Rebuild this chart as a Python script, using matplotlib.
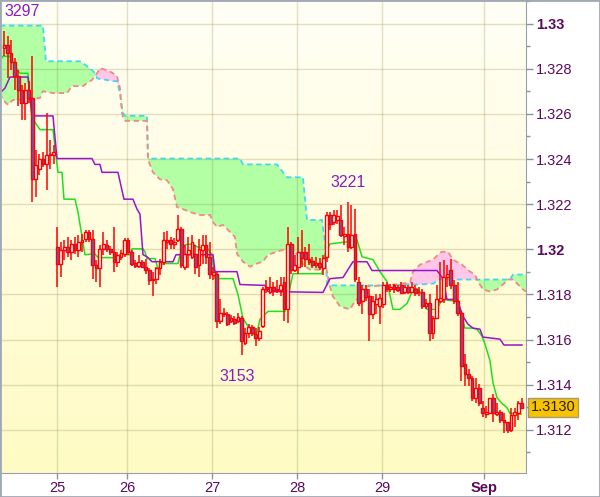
import numpy as np
import matplotlib
matplotlib.use("Agg")
import matplotlib.pyplot as plt
from matplotlib.colors import LinearSegmentedColormap
from matplotlib.patches import Rectangle
from matplotlib.transforms import blended_transform_factory

# hourly bars, x = bar number
opens = [1.32890, 1.32903, 1.32868, 1.32829, 1.32767, 1.32706, 1.32648, 1.32706, 1.32670, 1.32310,
         1.32354, 1.32402, 1.32376, 1.32420, 1.32416, 1.32011, 1.31937, 1.31998, 1.32011, 1.31989,
         1.32024, 1.31998, 1.32033, 1.32046, 1.32077, 1.32046, 1.31932, 1.31915, 1.32002, 1.32020,
         1.32002, 1.31989, 1.31945, 1.31967, 1.31980, 1.32042, 1.31989, 1.31941, 1.31928, 1.31945,
         1.31923, 1.31910, 1.31862, 1.31870, 1.31915, 1.31945, 1.32033, 1.32042, 1.32024, 1.32042,
         1.32090, 1.31923, 1.31980, 1.31967, 1.31980, 1.31932, 1.31998, 1.32020, 1.31967, 1.31888,
         1.31892, 1.31681, 1.31712, 1.31712, 1.31681, 1.31690, 1.31681, 1.31694, 1.31585, 1.31629,
         1.31655, 1.31624, 1.31607, 1.31659, 1.31835, 1.31813, 1.31831, 1.31818, 1.31818, 1.31857,
         1.31734, 1.32024, 1.31910, 1.31923, 1.31989, 1.31989, 1.31959, 1.31950, 1.31932, 1.31941,
         1.31915, 1.31967, 1.32152, 1.32121, 1.32130, 1.32130, 1.32060, 1.32068, 1.32011, 1.32068,
         1.31857, 1.31769, 1.31826, 1.31791, 1.31712, 1.31756, 1.31747, 1.31756, 1.31840, 1.31822,
         1.31840, 1.31835, 1.31844, 1.31813, 1.31835, 1.31813, 1.31826, 1.31813, 1.31813, 1.31747,
         1.31760, 1.31629, 1.31694, 1.31769, 1.31778, 1.31879, 1.31910, 1.31844, 1.31769, 1.31716,
         1.31492, 1.31448, 1.31431, 1.31343, 1.31387, 1.31295, 1.31269, 1.31273, 1.31343, 1.31269,
         1.31277, 1.31242, 1.31233, 1.31198, 1.31264, 1.31273, 1.31317]
highs = [1.32969, 1.32943, 1.32925, 1.32846, 1.32794, 1.32728, 1.32736, 1.32745, 1.32855, 1.32442,
         1.32420, 1.32429, 1.32605, 1.32486, 1.32464, 1.32099, 1.32033, 1.32042, 1.32055, 1.32042,
         1.32055, 1.32064, 1.32068, 1.32086, 1.32086, 1.32086, 1.31954, 1.32020, 1.32077, 1.32042,
         1.32015, 1.32099, 1.31989, 1.31998, 1.32051, 1.32051, 1.31998, 1.31954, 1.31976, 1.31954,
         1.31959, 1.31919, 1.31901, 1.31923, 1.31959, 1.32077, 1.32081, 1.32055, 1.32051, 1.32152,
         1.32099, 1.32020, 1.32055, 1.32064, 1.32020, 1.32046, 1.32064, 1.32064, 1.32033, 1.31923,
         1.31901, 1.31778, 1.31738, 1.31721, 1.31708, 1.31703, 1.31716, 1.31703, 1.31651, 1.31668,
         1.31664, 1.31651, 1.31655, 1.31835, 1.31866, 1.31879, 1.31857, 1.31866, 1.31879, 1.31879,
         1.32099, 1.32033, 1.31976, 1.32055, 1.32086, 1.32011, 1.32024, 1.31967, 1.31967, 1.31963,
         1.31976, 1.32165, 1.32165, 1.32174, 1.32174, 1.32196, 1.32099, 1.32209, 1.32196, 1.32178,
         1.31879, 1.31844, 1.31844, 1.31826, 1.31791, 1.31800, 1.31800, 1.31857, 1.31857, 1.31848,
         1.31848, 1.31844, 1.31857, 1.31844, 1.31844, 1.31857, 1.31840, 1.31835, 1.31822, 1.31778,
         1.31800, 1.31703, 1.31844, 1.31945, 1.31954, 1.31932, 1.31959, 1.31866, 1.31857, 1.31725,
         1.31536, 1.31470, 1.31440, 1.31431, 1.31404, 1.31330, 1.31308, 1.31343, 1.31361, 1.31321,
         1.31286, 1.31273, 1.31233, 1.31299, 1.31299, 1.31330, 1.31343]
lows = [1.32855, 1.32758, 1.32794, 1.32706, 1.32635, 1.32574, 1.32574, 1.32648, 1.32209, 1.32231,
        1.32328, 1.32363, 1.32262, 1.32354, 1.32376, 1.31835, 1.31879, 1.31954, 1.31967, 1.31954,
        1.31980, 1.31967, 1.31989, 1.32033, 1.32033, 1.31870, 1.31857, 1.31835, 1.31976, 1.31989,
        1.31976, 1.31901, 1.31923, 1.31954, 1.31967, 1.31976, 1.31928, 1.31919, 1.31915, 1.31915,
        1.31892, 1.31840, 1.31791, 1.31848, 1.31888, 1.31932, 1.32002, 1.32002, 1.32002, 1.32033,
        1.31915, 1.31910, 1.31915, 1.31959, 1.31892, 1.31879, 1.31937, 1.31937, 1.31870, 1.31866,
        1.31651, 1.31668, 1.31699, 1.31659, 1.31672, 1.31664, 1.31672, 1.31530, 1.31576, 1.31607,
        1.31615, 1.31571, 1.31593, 1.31651, 1.31805, 1.31800, 1.31791, 1.31805, 1.31791, 1.31681,
        1.31672, 1.31892, 1.31901, 1.31892, 1.31923, 1.31923, 1.31932, 1.31919, 1.31915, 1.31910,
        1.31888, 1.31945, 1.32086, 1.32108, 1.32112, 1.32055, 1.32020, 1.31989, 1.32002, 1.31857,
        1.31747, 1.31712, 1.31769, 1.31593, 1.31690, 1.31712, 1.31668, 1.31738, 1.31813, 1.31809,
        1.31805, 1.31809, 1.31800, 1.31800, 1.31800, 1.31805, 1.31791, 1.31791, 1.31734, 1.31734,
        1.31593, 1.31602, 1.31690, 1.31760, 1.31760, 1.31835, 1.31822, 1.31756, 1.31703, 1.31418,
        1.31396, 1.31396, 1.31330, 1.31317, 1.31308, 1.31255, 1.31251, 1.31273, 1.31233, 1.31260,
        1.31229, 1.31185, 1.31185, 1.31189, 1.31211, 1.31242, 1.31295]
closes = [1.32903, 1.32868, 1.32829, 1.32767, 1.32706, 1.32648, 1.32706, 1.32670, 1.32310, 1.32372,
          1.32398, 1.32376, 1.32416, 1.32416, 1.32429, 1.31937, 1.31998, 1.32011, 1.31989, 1.32024,
          1.31998, 1.32033, 1.32042, 1.32077, 1.32046, 1.31932, 1.31915, 1.32002, 1.32024, 1.32002,
          1.31989, 1.31945, 1.31976, 1.31985, 1.32042, 1.31989, 1.31937, 1.31928, 1.31945, 1.31923,
          1.31910, 1.31866, 1.31870, 1.31915, 1.31945, 1.32042, 1.32042, 1.32024, 1.32033, 1.32090,
          1.31932, 1.31980, 1.31998, 1.32033, 1.31923, 1.32002, 1.32020, 1.31967, 1.31892, 1.31901,
          1.31681, 1.31716, 1.31716, 1.31668, 1.31694, 1.31672, 1.31699, 1.31593, 1.31629, 1.31655,
          1.31629, 1.31607, 1.31637, 1.31822, 1.31822, 1.31831, 1.31818, 1.31826, 1.31840, 1.31734,
          1.32024, 1.31910, 1.31932, 1.31989, 1.31963, 1.31959, 1.31945, 1.31932, 1.31941, 1.31923,
          1.31963, 1.32152, 1.32112, 1.32152, 1.32147, 1.32064, 1.32068, 1.32011, 1.32064, 1.31870,
          1.31760, 1.31826, 1.31787, 1.31712, 1.31769, 1.31778, 1.31783, 1.31840, 1.31826, 1.31835,
          1.31822, 1.31818, 1.31805, 1.31835, 1.31813, 1.31835, 1.31805, 1.31809, 1.31747, 1.31760,
          1.31629, 1.31694, 1.31778, 1.31783, 1.31879, 1.31892, 1.31844, 1.31769, 1.31716, 1.31483,
          1.31448, 1.31431, 1.31343, 1.31387, 1.31317, 1.31273, 1.31277, 1.31343, 1.31273, 1.31277,
          1.31242, 1.31233, 1.31198, 1.31264, 1.31277, 1.31317, 1.31299]

# ichimoku lines (x in bars)
tenkan_x = [-1.13, -0.28, 1.69, 3.1, 4.51, 6.77, 7.9, 10.15, 13.82, 15.23, 16.36, 16.92, 20.02, 20.87,
            22.84, 25.66, 26.51, 32.15, 32.71, 35.53, 36.1, 39.2, 39.76, 40.33, 42.58, 43.43, 44.84,
            49.07, 49.63, 51.04, 53.3, 54.43, 57.53, 58.66, 59.5, 64.58, 65.99, 67.4, 68.81, 70.22,
            71.35, 72.19, 73.6, 74.45, 79.24, 80.09, 81.5, 89.68, 90.52, 91.93, 96.73, 97.58, 99.55,
            100.96, 104.06, 106.03, 108.01, 109.7, 111.67, 113.65, 115.34, 116.47, 117.88, 119.29,
            122.11, 122.96, 123.8, 128.03, 129.16, 130.0, 131.98, 133.39, 134.8, 135.65, 137.06,
            137.9, 139.03, 140.44, 141.85, 142.7, 145.8]
tenkan = [1.32837, 1.32855, 1.32855, 1.32811, 1.3278, 1.3278, 1.32583, 1.3253, 1.3253, 1.32341, 1.32341,
          1.32222, 1.32222, 1.32165, 1.31976, 1.3198, 1.31963, 1.31963, 1.31976, 1.31976, 1.32002,
          1.32002, 1.31989, 1.31959, 1.31959, 1.31915, 1.31937, 1.31937, 1.31976, 1.3202, 1.32024,
          1.32011, 1.32002, 1.31976, 1.3187, 1.3187, 1.318, 1.31694, 1.31659, 1.31624, 1.31629,
          1.3169, 1.31712, 1.31725, 1.31725, 1.31791, 1.31892, 1.31892, 1.31976, 1.32024, 1.32033,
          1.32042, 1.32042, 1.31967, 1.31954, 1.31901, 1.31857, 1.31734, 1.31734, 1.3176, 1.31822,
          1.31826, 1.318, 1.31734, 1.31734, 1.3176, 1.31778, 1.31769, 1.31703, 1.31651, 1.31651,
          1.31646, 1.31615, 1.3158, 1.31506, 1.31409, 1.31343, 1.31317, 1.31299, 1.31273, 1.31269]
kijun_x = [-1.13, 0.28, 1.69, 6.77, 7.9, 13.82, 14.95, 24.82, 25.66, 27.07, 27.64, 32.15, 33.84, 36.38,
           37.51, 38.35, 39.2, 40.33, 41.74, 47.66, 48.51, 58.94, 59.5, 65.71, 66.55, 73.6, 74.45,
           89.96, 91.09, 91.93, 95.6, 98.42, 102.37, 103.78, 122.11, 123.8, 124.93, 127.75, 129.44,
           130.85, 132.26, 134.24, 135.08, 139.87, 141.0, 146.08]
kijun = [1.32692, 1.32714, 1.32763, 1.32763, 1.32591, 1.32591, 1.32402, 1.32402, 1.32376, 1.32376,
         1.32341, 1.32341, 1.32222, 1.32222, 1.32178, 1.32156, 1.31976, 1.31967, 1.31945, 1.31945,
         1.31976, 1.31976, 1.31901, 1.31901, 1.31844, 1.3184, 1.31813, 1.31809, 1.31844, 1.3187,
         1.31875, 1.31945, 1.31945, 1.31906, 1.31906, 1.3187, 1.31778, 1.31778, 1.31703, 1.31668,
         1.31651, 1.31646, 1.31611, 1.31602, 1.31576, 1.31576]
cloud_x = [-1.13, -0.28, 1.13, 2.54, 4.51, 6.49, 10.15, 11.0, 11.84, 13.82, 17.77, 19.18, 21.43, 22.28,
           23.41, 24.82, 25.66, 26.23, 27.07, 29.05, 30.74, 31.87, 32.71, 33.28, 33.56, 34.12, 40.33,
           40.61, 42.02, 43.99, 45.97, 47.66, 48.79, 50.48, 52.45, 55.27, 58.09, 58.94, 60.07, 61.76,
           63.17, 65.14, 65.71, 66.55, 67.4, 69.37, 71.35, 73.04, 74.45, 76.99, 78.68, 79.81, 80.65,
           82.63, 84.32, 85.45, 86.29, 89.11, 89.68, 90.52, 91.09, 91.93, 92.78, 94.75, 96.73, 97.58,
           98.42, 99.83, 100.96, 108.01, 114.5, 115.34, 117.32, 120.98, 122.39, 122.96, 123.52,
           125.21, 126.62, 129.16, 131.42, 132.83, 133.67, 135.08, 137.06, 139.03, 140.72, 142.13,
           142.7, 143.54, 144.95, 146.36, 147.21]
span_a = [1.32991, 1.32991, 1.32991, 1.32991, 1.32991, 1.32991, 1.32991, 1.32991, 1.32833, 1.32833,
          1.32833, 1.32833, 1.32833, 1.32824, 1.32811, 1.32794, 1.3278, 1.32758, 1.32754, 1.3275,
          1.32745, 1.32745, 1.32692, 1.32626, 1.32605, 1.32591, 1.32591, 1.32402, 1.32402, 1.32402,
          1.32402, 1.32402, 1.32402, 1.32402, 1.32402, 1.32402, 1.32402, 1.32402, 1.32402, 1.32402,
          1.32402, 1.32402, 1.32402, 1.32402, 1.32376, 1.32376, 1.32376, 1.32376, 1.32376, 1.32376,
          1.32341, 1.32319, 1.32319, 1.32319, 1.32319, 1.3213, 1.3213, 1.3213, 1.3213, 1.32033,
          1.31844, 1.3184, 1.3184, 1.3184, 1.3184, 1.3184, 1.3184, 1.3184, 1.3184, 1.3184,
          1.31844, 1.31844, 1.31844, 1.31848, 1.31862, 1.31866, 1.31866, 1.31866, 1.31866, 1.31866,
          1.31866, 1.31866, 1.31866, 1.31866, 1.31866, 1.31866, 1.31866, 1.31866, 1.31866, 1.31888,
          1.31888, 1.31888, 1.31888]
span_b = [1.32692, 1.32662, 1.3264, 1.32662, 1.32662, 1.3267, 1.3267, 1.32701, 1.32697, 1.32692,
          1.32692, 1.32723, 1.32723, 1.32723, 1.32736, 1.3275, 1.32767, 1.3278, 1.32802, 1.32794,
          1.3278, 1.32767, 1.32714, 1.32605, 1.32587, 1.32569, 1.32569, 1.32398, 1.32341, 1.3231,
          1.32306, 1.32266, 1.32187, 1.32178, 1.32165, 1.32152, 1.32152, 1.32121, 1.32099, 1.32108,
          1.32086, 1.32055, 1.3198, 1.31963, 1.31945, 1.31923, 1.31937, 1.31945, 1.31976, 1.31989,
          1.31998, 1.31998, 1.31998, 1.3198, 1.31932, 1.31919, 1.3191, 1.3191, 1.31915, 1.31937,
          1.31901, 1.31835, 1.31791, 1.31747, 1.31738, 1.31734, 1.31756, 1.31783, 1.31835, 1.3184,
          1.31853, 1.31901, 1.31932, 1.31954, 1.31976, 1.31985, 1.31989, 1.31989, 1.31954, 1.31932,
          1.31901, 1.31888, 1.31857, 1.31822, 1.31813, 1.31822, 1.31844, 1.31866, 1.31866, 1.31866,
          1.31844, 1.31822, 1.31813]

day_ticks = [14.95, 34.69, 58.66, 82.63, 106.6, 135.36]
day_labels = ['25', '26', '27', '28', '29', 'Sep']
price_ticks = [1.312, 1.314, 1.316, 1.318, 1.320, 1.322, 1.324, 1.326, 1.328, 1.330]
peaks = [0, 97]
troughs = [67]
last_price = 1.3130

plt.rcParams['font.family'] = ['Liberation Sans', 'DejaVu Sans']
TXT = '#5c0a5c'
LBL = '#8a1cc0'

fig = plt.figure(figsize=(6, 4.97), dpi=100)
ax = fig.add_axes([0.0033, 0.0483, 0.8733, 0.9497])

bg = LinearSegmentedColormap.from_list('bg', ['#fffbc4', '#fffff6'])
ax.imshow(np.linspace(0, 1, 256).reshape(-1, 1), extent=[0, 1, 0, 1], transform=ax.transAxes,
          cmap=bg, aspect='auto', origin='lower', zorder=0)

# kumo
cx = np.array(cloud_x)
a = np.array(span_a)
b = np.array(span_b)
ax.fill_between(cx, a, b, where=a >= b, interpolate=True, color='#b2ffa4', lw=0, zorder=1)
ax.fill_between(cx, a, b, where=a < b, interpolate=True, color='#ffc6ea', lw=0, zorder=1)
ax.plot(cx, a, color='#3cdcf0', lw=1.3, ls=(0, (3, 2)), zorder=3)
ax.plot(cx, b, color='#f08a82', lw=1.3, ls=(0, (3, 2)), zorder=3)

ax.plot(tenkan_x, tenkan, color='#1ee01e', lw=1.1, zorder=4)
ax.plot(kijun_x, kijun, color='#9a14cc', lw=1.1, zorder=4)

# candles
o = np.array(opens)
c = np.array(closes)
x = np.arange(len(opens))
up = c >= o
ax.vlines(x, lows, highs, color='#ff0000', lw=1.1, zorder=5)
ax.bar(x, np.maximum(np.abs(c - o), 0.00003), bottom=np.minimum(o, c), width=0.78,
       color=np.where(up, '#fffef0', '#7456a8'), edgecolor='#ff0000', lw=1.0, zorder=6)

for i in peaks:
    ax.annotate(f"{highs[i] * 1e4 % 10000:.0f}", (i, highs[i]), xytext=(0, 14), textcoords='offset points',
                ha='left' if i == 0 else 'center', va='center', fontsize=11.5, color=LBL, zorder=8)
for i in troughs:
    ax.annotate(f"{lows[i] * 1e4 % 10000:.0f}", (i, lows[i]), xytext=(-3, -15), textcoords='offset points',
                ha='center', va='center', fontsize=11.5, color=LBL, zorder=8)

ax.set_xlim(-0.56, 147.2)
ax.set_ylim(1.31009, 1.33084)

ax.yaxis.tick_right()
ax.set_yticks(price_ticks)
ax.set_yticklabels([f"{v:.3f}".rstrip('0') for v in price_ticks])
ax.set_yticks([v - 0.001 for v in price_ticks] + [1.331], minor=True)
ax.set_xticks(day_ticks)
ax.set_xticklabels(day_labels)
ax.tick_params(axis='y', which='major', length=5, width=1, color='#8a92a4', labelcolor=TXT,
               labelsize=10.5, pad=2)
ax.tick_params(axis='y', which='minor', length=3, width=1, color='#8a92a4')
ax.tick_params(axis='x', length=4, width=1, color='#8a92a4', labelcolor=TXT, labelsize=10.5, pad=2)
for t in ax.get_yticklabels() + ax.get_xticklabels():
    if t.get_text() in ('1.33', '1.32', 'Sep'):
        t.set_fontweight('bold')

ax.grid(True, color='#8c8040', alpha=0.25, lw=1)
ax.set_axisbelow(False)
for s in ('top', 'left'):
    ax.spines[s].set_visible(False)
for s in ('right', 'bottom'):
    ax.spines[s].set_color('#98a0b0')

tr = blended_transform_factory(ax.transAxes, ax.transData)
ax.text(1.009, last_price, f"{last_price:.4f}", transform=tr, ha='left', va='center', fontsize=10.5,
        color='#2a2010', bbox=dict(boxstyle='square,pad=0.18', fc='#f7c200', ec='#a89a70', lw=1),
        clip_on=False, zorder=9)

fig.patches.append(Rectangle((0, 0), 1, 1, transform=fig.transFigure, fill=False,
                             ec='#a0a8b4', lw=2))

fig.savefig('out.png', dpi=100)
